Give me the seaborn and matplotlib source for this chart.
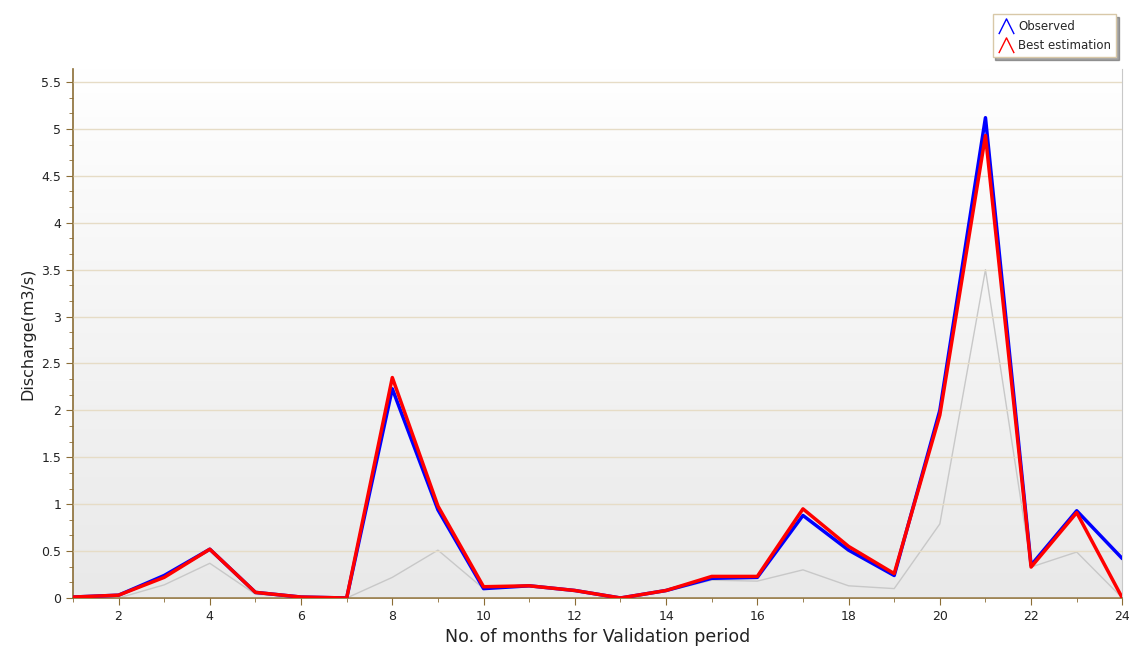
import numpy as np
import pandas as pd
import seaborn as sns
import matplotlib.pyplot as plt
from matplotlib.lines import Line2D
from matplotlib.path import Path
from matplotlib.ticker import MultipleLocator

# 데이터
months = list(range(1, 25))
observed = [0.01, 0.03, 0.24, 0.52, 0.06, 0.01, 0.0, 2.23, 0.94, 0.10, 0.13, 0.08,
            0.0, 0.08, 0.21, 0.22, 0.88, 0.51, 0.24, 2.0, 5.12, 0.35, 0.93, 0.42]
best_est = [0.01, 0.03, 0.22, 0.52, 0.06, 0.01, 0.0, 2.35, 0.98, 0.12, 0.13, 0.08,
            0.0, 0.08, 0.23, 0.23, 0.95, 0.55, 0.26, 1.95, 4.93, 0.33, 0.91, 0.0]
other = [0.0, 0.0, 0.14, 0.37, 0.04, 0.01, 0.0, 0.22, 0.51, 0.10, 0.13, 0.08,
         0.0, 0.07, 0.19, 0.18, 0.30, 0.13, 0.10, 0.79, 3.50, 0.33, 0.49, 0.0]

df = pd.DataFrame({'month': months, 'Observed': observed,
                   'Best estimation': best_est, 'other': other})

sns.set_style("white")
plt.rcParams['font.family'] = ['Verdana', 'DejaVu Sans']

fig = plt.figure(figsize=(11.29, 6.5), dpi=100)
ax = fig.add_axes([0.0646, 0.08, 0.9295, 0.814])

# 배경 그라데이션
grad = np.linspace(0, 1, 256).reshape(-1, 1)
ax.imshow(grad, extent=[0, 1, 0, 1], transform=ax.transAxes, aspect='auto',
          cmap=plt.matplotlib.colors.LinearSegmentedColormap.from_list('bg', ['#e9e9e9', '#ffffff']),
          origin='lower', zorder=0)

sns.lineplot(data=df, x='month', y='other', color='#c8c8c8', linewidth=1, ax=ax, zorder=2)
sns.lineplot(data=df, x='month', y='Observed', color='#0000ff', linewidth=2.5, ax=ax, zorder=3)
sns.lineplot(data=df, x='month', y='Best estimation', color='#ff0000', linewidth=2.5, ax=ax, zorder=4)

ax.set_xlim(1, 24)
ax.set_ylim(0, 5.64)
ax.xaxis.set_major_locator(MultipleLocator(2))
ax.xaxis.set_minor_locator(MultipleLocator(1))
ax.yaxis.set_major_locator(MultipleLocator(0.5))
ax.yaxis.set_minor_locator(MultipleLocator(0.5 / 3))
ax.set_yticks(np.arange(0, 5.51, 0.5))
ax.set_yticklabels(['0', '0.5', '1', '1.5', '2', '2.5', '3', '3.5', '4', '4.5', '5', '5.5'])
ax.grid(axis='y', which='major', color='#e6dcc6', linewidth=1, zorder=1)
ax.set_axisbelow(False)

ax.spines['top'].set_visible(False)
ax.spines['right'].set_color('#c8c8c8')
ax.spines['left'].set_color('#8b6d35')
ax.spines['bottom'].set_color('#8b6d35')
ax.spines['left'].set_linewidth(1.2)
ax.spines['bottom'].set_linewidth(1.2)
ax.tick_params(axis='both', which='both', direction='out', color='#8b6d35',
               left=True, bottom=True, labelsize=9, labelcolor='#222222')
ax.tick_params(which='major', length=5)
ax.tick_params(which='minor', length=3)

ax.set_xlabel("No. of months for Validation period", fontsize=12.5, color='#222222')
ax.set_ylabel("Discharge(m3/s)", fontsize=11.5, color='#222222')

# 범례
chevron = Path([(-1, -1), (0, 1), (1, -1)], [Path.MOVETO, Path.LINETO, Path.LINETO])
handles = [Line2D([], [], color='#0000ff', marker=chevron, linestyle='none', markersize=11,
                  markerfacecolor='none', markeredgewidth=1),
           Line2D([], [], color='#ff0000', marker=chevron, linestyle='none', markersize=11,
                  markerfacecolor='none', markeredgewidth=1)]
leg = fig.legend(handles, ['Observed', 'Best estimation'], loc='upper right',
                 bbox_to_anchor=(0.994, 0.987), fontsize=8.5, frameon=True, fancybox=False,
                 shadow=True, handlelength=1.4, handletextpad=0.3, borderpad=0.45,
                 labelspacing=0.55)
leg.get_frame().set_edgecolor('#d8c8a8')
leg.get_frame().set_facecolor('#ffffff')

fig.savefig('out.png', dpi=100)
